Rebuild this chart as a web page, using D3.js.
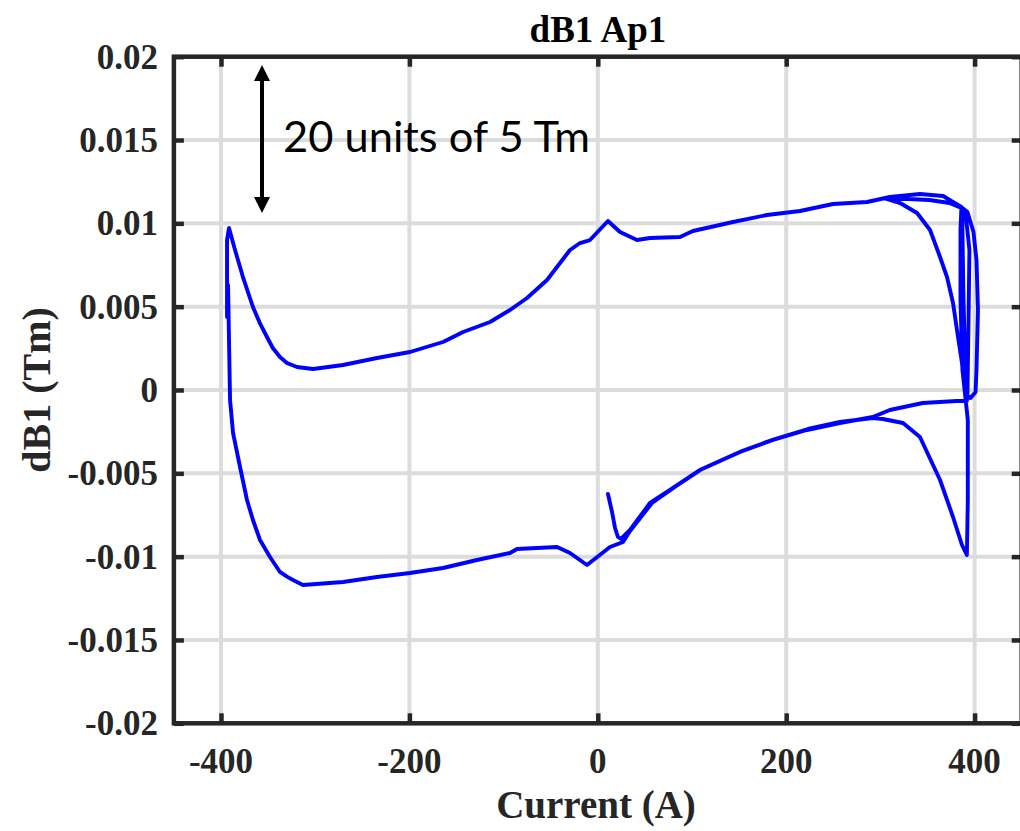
<!DOCTYPE html>
<html><head><meta charset="utf-8">
<script src="https://cdn.jsdelivr.net/npm/d3@7"></script>
<style>html,body{margin:0;padding:0;background:#fff;}svg{display:block;}</style>
</head><body>
<svg id="chart" width="1020" height="831"></svg>
<script>
// ---- data ----
const xTicks = [-400, -200, 0, 200, 400];
const xTickLabels = ["-400", "-200", "0", "200", "400"];
const yTicks = [0.02, 0.015, 0.01, 0.005, 0, -0.005, -0.01, -0.015, -0.02];
const yTickLabels = ["0.02", "0.015", "0.01", "0.005", "0", "-0.005", "-0.01", "-0.015", "-0.02"];

// measured trace: current (A) and dB1 (Tm), in drawing order
const current = [
  10.8, 15.1, 18.3, 21.4, 24.6, 34.2, 55.4, 79.8, 108.5, 151, 186, 222, 257, 292, 310, 345, 381, 391.8,
  390.3, 388.2, 387.1, 387.1, 392.4, 398.8, 402, 403.6, 402, 401, 395.7, 392.4, 393.4, 394.5, 390.3, 386,
  377, 366.6, 342, 310, 285.8, 249.7, 214.6, 179.6, 143.5, 101, 87.3, 55.4, 41.6, 23.6, 10.8,
  -8.3, -18.9, -29.5, -40.1, -53.9, -75.1, -93.2, -114.4, -143, -164.3, -199.4, -234.4, -270.5, -302.3,
  -319.3, -330, -337.4, -345, -351.2, -359, -366.1, -376.7, -385.1, -391.5,
  -393.6, -393.6, -392.5, -391.5, -390.4, -387.2, -379.8, -372.4, -366.1, -358.6, -348, -337.4, -330, -323.6, -313,
  -270.5, -234.4, -199.4, -164.3, -128.3, -93.2, -85.8, -43.3, -29.5, -11.5, 12.95, 26.8, 34.2,
  57.5, 81.8, 110.6, 153, 188, 223, 257, 292, 302.7, 324, 342, 363.3, 377.1, 386.6, 391.8,
  392.8, 392.8, 390.3, 387.1, 385, 385, 386,
  373.4, 352.2, 330, 305, 320.9, 338.9, 352.7, 363.3, 370.7, 377.1, 382.4, 386.6, 389.8
];
const dB1 = [
  -0.00624, -0.00732, -0.00828, -0.00882, -0.00894, -0.0084, -0.00678, -0.00588, -0.0048, -0.00372, -0.003, -0.0024, -0.00198, -0.00162, -0.0012, -0.00078, -0.00066, -0.00066,
  0.0012, 0.0054, 0.0096, 0.01092, 0.01068, 0.00948, 0.0078, 0.0048, 0.0012, -0.00012, -0.00048, -0.00036, 0.0036, 0.0084, 0.01068, 0.01098,
  0.01128, 0.01164, 0.01176, 0.01158, 0.01128, 0.01116, 0.01074, 0.0105, 0.01008, 0.00954, 0.00918, 0.00912, 0.009, 0.00948, 0.01014,
  0.009, 0.00882, 0.0084, 0.00762, 0.0066, 0.00552, 0.0048, 0.00408, 0.00348, 0.00288, 0.00228, 0.00192, 0.0015, 0.00126,
  0.00138, 0.00162, 0.00198, 0.00252, 0.00318, 0.00405, 0.00498, 0.00678, 0.0084, 0.00972,
  0.009, 0.00438, 0.0063, 0.003, -0.0006, -0.00258, -0.00462, -0.0066, -0.0078, -0.009, -0.01002, -0.01092, -0.0112, -0.0114, -0.0117,
  -0.01152, -0.01122, -0.01098, -0.01068, -0.0102, -0.00978, -0.00954, -0.00942, -0.00978, -0.0105, -0.00942, -0.00912, -0.00846,
  -0.00678, -0.00582, -0.00474, -0.00366, -0.00294, -0.00234, -0.00192, -0.00168, -0.00174, -0.00198, -0.00282, -0.0054, -0.00762, -0.0093, -0.0099,
  -0.0066, -0.0018, -0.00048, 0.0012, 0.0054, 0.0096, 0.01092,
  0.01122, 0.0114, 0.01146, 0.0115, 0.01122, 0.01062, 0.0096, 0.00798, 0.00678, 0.00522, 0.00318, 0.00162, -0.00012
];

const titleText = "dB1 Ap1";
const xLabelText = "Current (A)";
const yLabelText = "dB1 (Tm)";
const noteText = "20 units of 5 Tm";

// ---- layout ----
const svg = d3.select("#chart");
const L = 173.9, R = 1021.7, T = 56.7, B = 723.3;
const x = d3.scaleLinear().domain([-450, 450]).range([L, R]);
const y = d3.scaleLinear().domain([-0.02, 0.02]).range([B, T]);
const serif = "'Liberation Serif','Times New Roman',serif";

svg.append("defs").append("clipPath").attr("id", "clip")
  .append("rect").attr("x", L).attr("y", T).attr("width", R - L).attr("height", B - T);

// grid
const grid = svg.append("g");
grid.selectAll(".gx").data(xTicks).join("line")
  .attr("x1", d => x(d)).attr("x2", d => x(d)).attr("y1", T).attr("y2", B)
  .attr("stroke", "#dcdcdc").attr("stroke-width", 4);
grid.selectAll(".gy").data(yTicks).join("line")
  .attr("y1", d => y(d)).attr("y2", d => y(d)).attr("x1", L).attr("x2", R)
  .attr("stroke", "#dcdcdc").attr("stroke-width", 4);

// curve
const pts = current.map((c, i) => [c, dB1[i]]);
svg.append("path").datum(pts)
  .attr("clip-path", "url(#clip)")
  .attr("fill", "none").attr("stroke", "#0000ff").attr("stroke-width", 3.9)
  .attr("stroke-linejoin", "round").attr("stroke-linecap", "round")
  .attr("d", d3.line().x(d => x(d[0])).y(d => y(d[1])));

// axes (box with inward ticks)
const axCol = "#262626";
const xb = d3.axisBottom(x).tickValues(xTicks).tickSize(-10).tickFormat("");
const xt = d3.axisTop(x).tickValues(xTicks).tickSize(-10).tickFormat("");
const yl = d3.axisLeft(y).tickValues(yTicks).tickSize(-10).tickFormat("");
const yr = d3.axisRight(y).tickValues(yTicks).tickSize(-10).tickFormat("");
function styleAxis(g) {
  g.selectAll("path.domain").remove();
  g.selectAll(".tick line").attr("stroke", axCol).attr("stroke-width", 4.5);
}
svg.append("g").attr("transform", `translate(0,${B})`).call(xb).call(styleAxis);
svg.append("g").attr("transform", `translate(0,${T})`).call(xt).call(styleAxis);
svg.append("g").attr("transform", `translate(${L},0)`).call(yl).call(styleAxis);
svg.append("g").attr("transform", `translate(${R},0)`).call(yr).call(styleAxis);
svg.append("rect").attr("x", L).attr("y", T).attr("width", R - L).attr("height", B - T)
  .attr("fill", "none").attr("stroke", axCol).attr("stroke-width", 4.5);

// tick labels
svg.append("g").selectAll("text").data(xTicks).join("text")
  .attr("x", d => x(d)).attr("y", 773)
  .attr("text-anchor", "middle")
  .attr("font-family", serif).attr("font-weight", "bold").attr("font-size", 35).attr("fill", "#262626")
  .text((d, i) => xTickLabels[i]);
svg.append("g").selectAll("text").data(yTicks).join("text")
  .attr("x", 158).attr("y", d => y(d) + 12)
  .attr("text-anchor", "end")
  .attr("font-family", serif).attr("font-weight", "bold").attr("font-size", 35).attr("fill", "#262626")
  .text((d, i) => yTickLabels[i]);

// titles
svg.append("text").attr("x", 598).attr("y", 42).attr("text-anchor", "middle")
  .attr("font-family", serif).attr("font-weight", "bold").attr("font-size", 37).attr("fill", "#000")
  .text(titleText);
svg.append("text").attr("x", 596).attr("y", 818).attr("text-anchor", "middle")
  .attr("font-family", serif).attr("font-weight", "bold").attr("font-size", 39).attr("fill", "#262626")
  .text(xLabelText);
svg.append("text").attr("transform", "translate(50,390) rotate(-90)").attr("text-anchor", "middle")
  .attr("font-family", serif).attr("font-weight", "bold").attr("font-size", 40).attr("fill", "#262626")
  .text(yLabelText);

// annotation: double arrow + text
const ax = 262, aTop = 65, aBot = 213, hw = 8, hh = 16;
svg.append("line").attr("x1", ax).attr("x2", ax).attr("y1", aTop + hh - 2).attr("y2", aBot - hh + 2)
  .attr("stroke", "#000").attr("stroke-width", 4);
svg.append("path").attr("d", `M${ax},${aTop} L${ax - hw},${aTop + hh} L${ax + hw},${aTop + hh} Z`).attr("fill", "#000");
svg.append("path").attr("d", `M${ax},${aBot} L${ax - hw},${aBot - hh} L${ax + hw},${aBot - hh} Z`).attr("fill", "#000");
svg.append("text").attr("x", 283).attr("y", 152)
  .attr("font-family", "Lato, 'Open Sans', sans-serif").attr("font-size", 42).attr("fill", "#000")
  .attr("textLength", 307).attr("lengthAdjust", "spacingAndGlyphs")
  .text(noteText);
</script>
</body></html>
